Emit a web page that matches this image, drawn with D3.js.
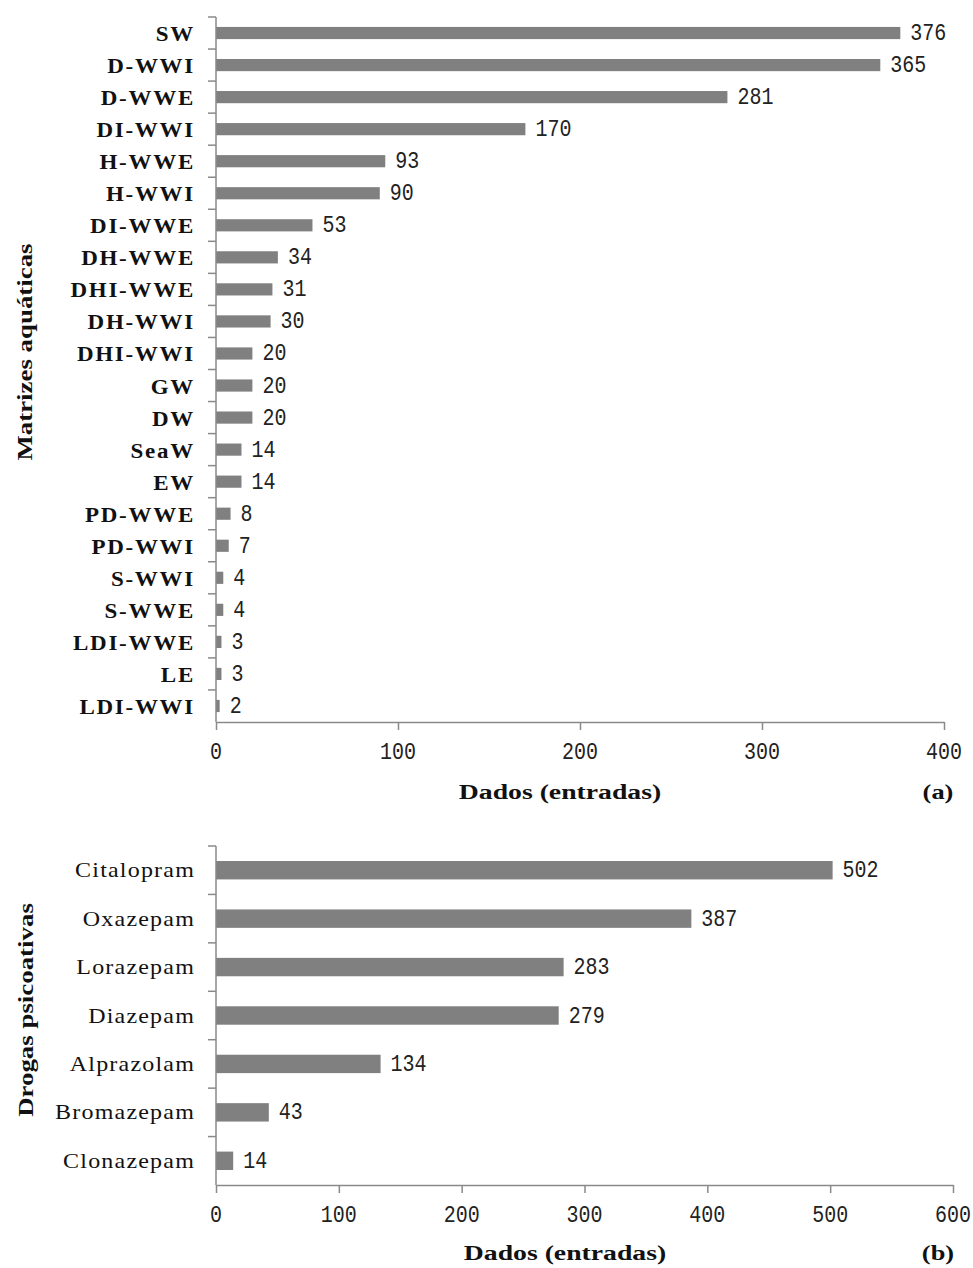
<!DOCTYPE html>
<html>
<head>
<meta charset="utf-8">
<script src="https://cdn.jsdelivr.net/npm/d3@7"></script>
<style>
  body { margin: 0; background: #fff; }
  svg { display: block; }
</style>
</head>
<body>
<svg id="chart" width="973" height="1268"></svg>
<script>
// Panel (a): data entries per aquatic matrix
const matrixNames = ["SW", "D-WWI", "D-WWE", "DI-WWI", "H-WWE", "H-WWI", "DI-WWE", "DH-WWE",
  "DHI-WWE", "DH-WWI", "DHI-WWI", "GW", "DW", "SeaW", "EW", "PD-WWE", "PD-WWI", "S-WWI",
  "S-WWE", "LDI-WWE", "LE", "LDI-WWI"];
const matrixCounts = [376, 365, 281, 170, 93, 90, 53, 34, 31, 30, 20, 20, 20, 14, 14, 8, 7, 4, 4, 3, 3, 2];
const matrixTicks = [0, 100, 200, 300, 400];

// Panel (b): data entries per psychoactive drug
const drugNames = ["Citalopram", "Oxazepam", "Lorazepam", "Diazepam", "Alprazolam", "Bromazepam", "Clonazepam"];
const drugCounts = [502, 387, 283, 279, 134, 43, 14];
const drugTicks = [0, 100, 200, 300, 400, 500, 600];

const BAR = "#808080";
const AXIS = "#8a8a8a";
const SERIF = "'Liberation Serif', 'Times New Roman', serif";
const MONO = "'Liberation Mono', 'DejaVu Sans Mono', monospace";

const svg = d3.select("#chart");

// Text drawn with a stretch along its reading direction
function label(parent, x, y, str, o) {
  return parent.append("text")
    .attr("transform", `translate(${x},${y}) rotate(${o.rotate || 0}) scale(${o.sx || 1},${o.sy || 1})`)
    .attr("text-anchor", o.anchor || "start")
    .attr("font-family", o.family)
    .attr("font-size", o.size)
    .attr("font-weight", o.weight || "normal")
    .attr("letter-spacing", o.spacing || 0)
    .attr("fill", o.fill || "#111")
    .text(str);
}

function panel(cfg) {
  const g = svg.append("g");
  const x = d3.scaleLinear().domain([0, cfg.max]).range([cfg.left, cfg.right]);
  const y = d3.scaleBand().domain(cfg.names).range([cfg.top, cfg.bottom])
    .paddingInner(0.62).paddingOuter(0.31);

  // bars
  g.selectAll("rect.bar").data(cfg.names).join("rect")
    .attr("class", "bar")
    .attr("x", x(0))
    .attr("y", d => y(d))
    .attr("width", (d, i) => x(cfg.values[i]) - x(0))
    .attr("height", y.bandwidth())
    .attr("fill", BAR);

  // x axis with downward ticks
  const xAxis = d3.axisBottom(x).tickValues(cfg.ticks).tickSize(8).tickSizeOuter(0).tickFormat("");
  const ax = g.append("g").attr("transform", `translate(0,${cfg.bottom})`).call(xAxis);
  ax.select(".domain").attr("stroke", AXIS).attr("stroke-width", 1.5);
  ax.selectAll(".tick line").attr("stroke", AXIS).attr("stroke-width", 1.5);

  cfg.ticks.forEach(t => {
    label(g, x(t), cfg.bottom + 37, String(t), {
      family: MONO, size: cfg.numSize, anchor: "middle", sy: 1.2, fill: "#222"
    });
  });

  // y axis: line plus ticks at category boundaries
  g.append("line")
    .attr("x1", x(0)).attr("x2", x(0))
    .attr("y1", cfg.top).attr("y2", cfg.bottom)
    .attr("stroke", AXIS).attr("stroke-width", 1.5);
  const step = y.step();
  d3.range(cfg.names.length).forEach(i => {
    const yy = cfg.top + i * step;
    g.append("line")
      .attr("x1", x(0) - 8).attr("x2", x(0))
      .attr("y1", yy).attr("y2", yy)
      .attr("stroke", AXIS).attr("stroke-width", 1.5);
  });

  // category labels
  cfg.names.forEach(n => {
    label(g, cfg.left - 21, y(n) + y.bandwidth() / 2 + cfg.catDy, n, {
      family: SERIF, size: cfg.catSize, weight: cfg.catWeight, anchor: "end",
      sx: cfg.catSx, spacing: cfg.catSpacing
    });
  });

  // value labels
  cfg.names.forEach((n, i) => {
    label(g, x(cfg.values[i]) + 10, y(n) + y.bandwidth() / 2 + 7, String(cfg.values[i]), {
      family: MONO, size: cfg.numSize, sy: 1.2, fill: "#222"
    });
  });

  // axis titles and panel tag
  label(g, cfg.yTitleX, cfg.yTitleY, cfg.yTitle, {
    family: SERIF, size: 21, weight: "bold", anchor: "middle", rotate: -90, sx: 1.28
  });
  label(g, cfg.xTitleX, cfg.xTitleY, "Dados (entradas)", {
    family: SERIF, size: 22, weight: "bold", anchor: "middle", sx: 1.26
  });
  label(g, 938, cfg.xTitleY, cfg.tag, {
    family: SERIF, size: 22, weight: "bold", anchor: "middle", sx: 1.2
  });
}

panel({
  names: matrixNames, values: matrixCounts, ticks: matrixTicks, max: 400,
  left: 216, right: 944, top: 17, bottom: 722,
  catSize: 20, catWeight: "bold", catSx: 1.15, catSpacing: 1.5, catDy: 8, numSize: 20,
  yTitle: "Matrizes aquáticas", yTitleX: 32, yTitleY: 352,
  xTitleX: 560, xTitleY: 799, tag: "(a)"
});

panel({
  names: drugNames, values: drugCounts, ticks: drugTicks, max: 600,
  left: 216, right: 953, top: 846, bottom: 1185,
  catSize: 20, catWeight: "normal", catSx: 1.2, catSpacing: 1, catDy: 7, numSize: 20,
  yTitle: "Drogas psicoativas", yTitleX: 33, yTitleY: 1010,
  xTitleX: 565, xTitleY: 1260, tag: "(b)"
});
</script>
</body>
</html>
